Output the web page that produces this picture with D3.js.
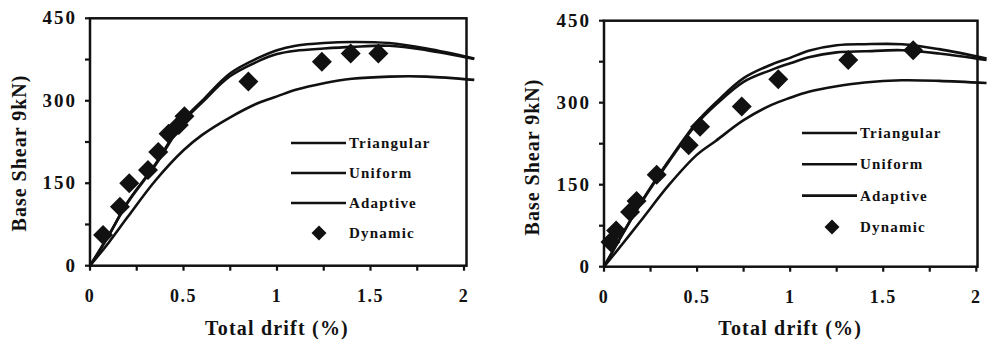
<!DOCTYPE html>
<html>
<head>
<meta charset="utf-8">
<script src="https://cdn.jsdelivr.net/npm/d3@7"></script>
<style>
  body { margin: 0; background: #fff; }
  text { font-family: "DejaVu Serif", serif; font-weight: bold; fill: #111; }
  text.ls { font-family: "Liberation Serif", "Times New Roman", Times; }
</style>
</head>
<body>
<script>
// values (drift %, base shear)
var driftA = [0, 0.1, 0.2, 0.35, 0.5, 0.6, 0.75, 0.9, 1.0, 1.1, 1.25, 1.4, 1.6, 1.8, 2.055];
var uniformA = [0, 55, 115, 185, 265, 300, 350, 378, 392, 400, 405, 407, 405, 395, 377];
var adaptiveA = [0, 55, 114, 183, 262, 297, 345, 372, 385, 391, 395, 398, 400, 392, 376];
var triangA = [0, 42, 88, 155, 210, 238, 270, 296, 308, 320, 332, 340, 344, 344, 338];
var dynXA = [0.07, 0.16, 0.21, 0.31, 0.365, 0.42, 0.475, 0.505, 0.847, 1.24, 1.394, 1.542];
var dynYA = [56, 107, 150, 174, 207, 240, 256, 272, 335, 371, 386, 386];

var driftB = [0, 0.1, 0.2, 0.35, 0.5, 0.6, 0.75, 0.9, 1.0, 1.1, 1.25, 1.4, 1.6, 1.8, 2.055];
var uniformB = [0, 60, 118, 195, 265, 300, 345, 370, 382, 395, 405, 407, 407, 398, 381];
var adaptiveB = [0, 60, 117, 193, 262, 296, 338, 360, 372, 383, 392, 394, 396, 390, 378];
var triangB = [0, 42, 85, 150, 205, 230, 268, 296, 309, 320, 330, 337, 341, 340, 336];
var dynXB = [0.035, 0.065, 0.14, 0.175, 0.283, 0.455, 0.516, 0.74, 0.936, 1.312, 1.661];
var dynYB = [45, 66, 100, 120, 168, 222, 256, 293, 343, 378, 396];

var xTicks = [0, 0.5, 1, 1.5, 2];
var yTicks = [0, 150, 300, 450];
var seriesNames = ["Triangular", "Uniform", "Adaptive", "Dynamic"];

var svg = d3.select("body").append("svg")
    .attr("width", 988)
    .attr("height", 345);

var panels = [
    { left: 90, right: 464, top: 18.3, bottom: 265.7, frameR: 466.5,
      drift: driftA, lines: [triangA, uniformA, adaptiveA], dx: dynXA, dy: dynYA,
      legX: 291, legY: 143, legStep: 30, diaX: 319, yTitleX: 19, yTitleY: 153 },
    { left: 604, right: 976.3, top: 20.7, bottom: 266.7, frameR: 977.5,
      drift: driftB, lines: [triangB, uniformB, adaptiveB], dx: dynXB, dy: dynYB,
      legX: 802, legY: 133, legStep: 31.3, diaX: 832, yTitleX: 532, yTitleY: 157 }
];

panels.forEach(function(p) {
    var x = d3.scaleLinear().domain([0, 2]).range([p.left, p.right]);
    var y = d3.scaleLinear().domain([0, 450]).range([p.bottom, p.top]);
    var g = svg.append("g");

    // frame
    g.append("rect")
        .attr("x", p.left)
        .attr("y", p.top)
        .attr("width", p.frameR - p.left)
        .attr("height", p.bottom - p.top)
        .attr("fill", "none")
        .attr("stroke", "#111")
        .attr("stroke-width", 2.5);

    // ticks (minor every 0.25 / 75)
    g.selectAll(".xt").data(d3.range(0, 2.01, 0.25)).enter().append("line")
        .attr("x1", function(d) { return x(d); })
        .attr("x2", function(d) { return x(d); })
        .attr("y1", p.bottom)
        .attr("y2", p.bottom + 5)
        .attr("stroke", "#111").attr("stroke-width", 2.2);
    g.selectAll(".yt").data(d3.range(0, 451, 75)).enter().append("line")
        .attr("x1", p.left - 5)
        .attr("x2", p.left)
        .attr("y1", function(d) { return y(d); })
        .attr("y2", function(d) { return y(d); })
        .attr("stroke", "#111").attr("stroke-width", 2.2);

    g.selectAll(".xl").data(xTicks).enter().append("text")
        .attr("class", "ls")
        .attr("x", function(d) { return x(d); })
        .attr("y", p.bottom + 36)
        .attr("text-anchor", "middle")
        .style("font-size", "18px")
        .style("letter-spacing", "1.5px")
        .text(function(d) { return String(d); });
    g.selectAll(".yl").data(yTicks).enter().append("text")
        .attr("class", "ls")
        .attr("x", p.left - 13)
        .attr("y", function(d) { return y(d) + 6; })
        .attr("text-anchor", "end")
        .style("font-size", "19px")
        .style("letter-spacing", "2px")
        .text(function(d) { return d; });

    // axis titles
    g.append("text")
        .attr("class", "ls")
        .attr("x", (p.left + p.right) / 2)
        .attr("y", 335)
        .attr("text-anchor", "middle")
        .style("font-size", "20px")
        .style("letter-spacing", "1.2px")
        .text("Total drift (%)");
    g.append("text")
        .attr("class", "ls")
        .attr("transform", "translate(" + p.yTitleX + "," + p.yTitleY + ") rotate(-90)")
        .attr("text-anchor", "middle")
        .attr("dy", "0.35em")
        .style("font-size", "20px")
        .style("letter-spacing", "1px")
        .text("Base Shear 9kN)");

    // curves
    var line = d3.line()
        .x(function(d, i) { return x(p.drift[i]); })
        .y(function(d) { return y(d); })
        .curve(d3.curveCatmullRom.alpha(0.5));
    p.lines.forEach(function(s) {
        g.append("path")
            .attr("d", line(s))
            .attr("fill", "none")
            .attr("stroke", "#111")
            .attr("stroke-width", 2.6);
    });

    // dynamic points
    var dia = "M0,-10L10,0L0,10L-10,0Z";
    g.selectAll(".pt").data(p.dx).enter().append("path")
        .attr("d", dia)
        .attr("transform", function(d, i) { return "translate(" + x(d) + "," + y(p.dy[i]) + ")"; })
        .attr("fill", "#111");

    // legend
    seriesNames.forEach(function(name, i) {
        var ly = p.legY + i * p.legStep;
        if (i < 3) {
            g.append("line")
                .attr("x1", p.legX).attr("x2", p.legX + 55)
                .attr("y1", ly).attr("y2", ly)
                .attr("stroke", "#111").attr("stroke-width", 2.6);
        } else {
            g.append("path")
                .attr("d", "M0,-7.5L7.5,0L0,7.5L-7.5,0Z")
                .attr("transform", "translate(" + p.diaX + "," + ly + ")")
                .attr("fill", "#111");
        }
        g.append("text")
            .attr("class", "ls")
            .attr("x", p.legX + 58)
            .attr("y", ly + 5)
            .style("font-size", "15px")
            .style("letter-spacing", "1.2px")
            .text(name);
    });
});
</script>
</body>
</html>
